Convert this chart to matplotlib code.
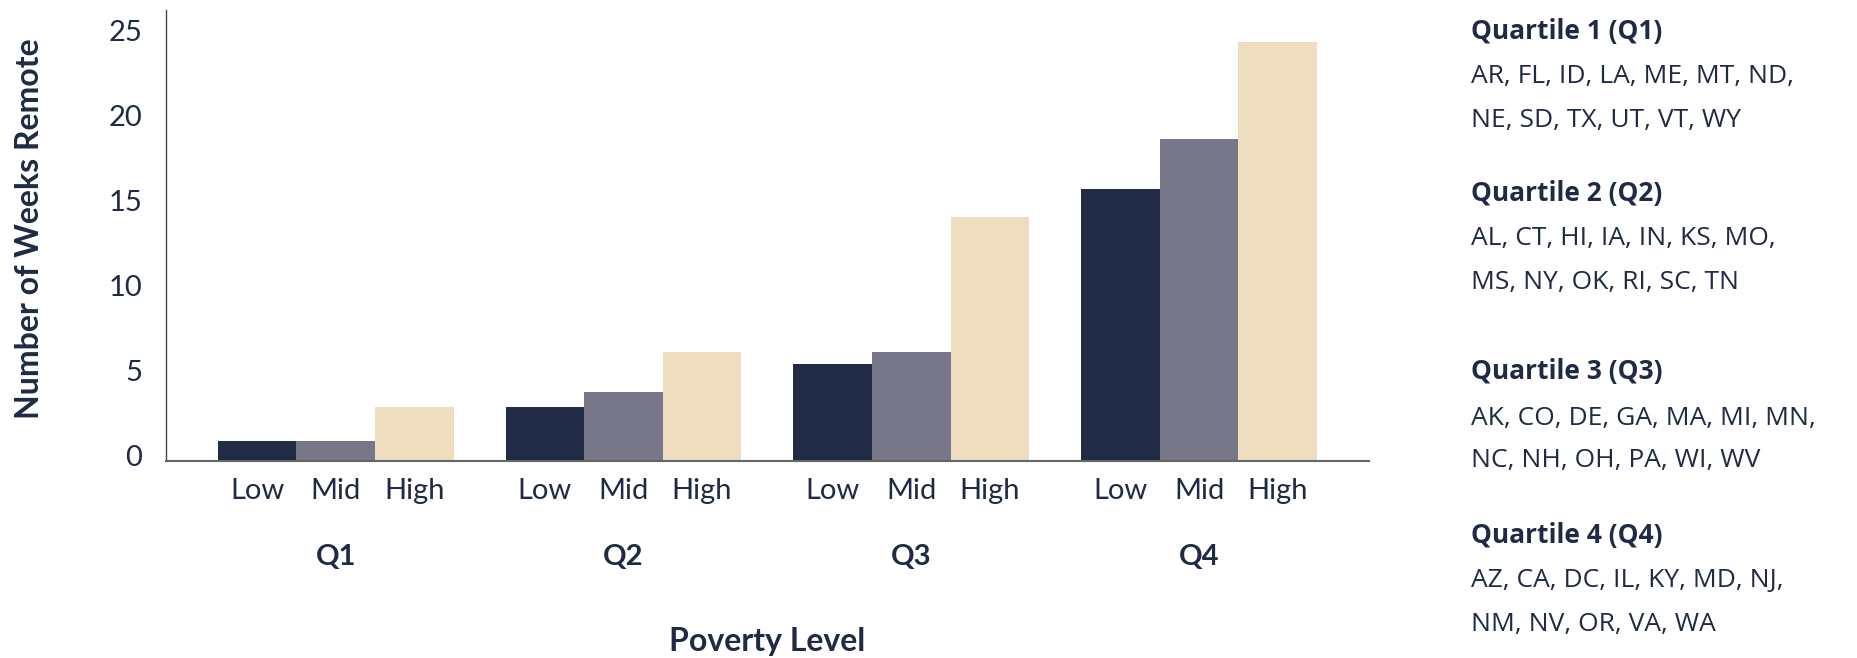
import numpy as np
import matplotlib
matplotlib.use("Agg")
import matplotlib.pyplot as plt
import matplotlib.transforms as mtransforms

# data
quartiles = ["Q1", "Q2", "Q3", "Q4"]
levels = ["Low", "Mid", "High"]
low_vals = [1.15, 3.2, 5.7, 16.0]
mid_vals = [1.15, 4.05, 6.4, 18.9]
high_vals = [3.2, 6.4, 14.35, 24.6]
yticks = [0, 5, 10, 15, 20, 25]

quartile_titles = ["Quartile 1 (Q1)", "Quartile 2 (Q2)", "Quartile 3 (Q3)", "Quartile 4 (Q4)"]
quartile_states = [
    ["AR, FL, ID, LA, ME, MT, ND,", "NE, SD, TX, UT, VT, WY"],
    ["AL, CT, HI, IA, IN, KS, MO,", "MS, NY, OK, RI, SC, TN"],
    ["AK, CO, DE, GA, MA, MI, MN,", "NC, NH, OH, PA, WI, WV"],
    ["AZ, CA, DC, IL, KY, MD, NJ,", "NM, NV, OR, VA, WA"],
]

colors = ["#212b45", "#787789", "#eedebf"]
txt = "#1f2a44"

plt.rcParams['font.family'] = ['Lato', 'DejaVu Sans']

fig = plt.figure(figsize=(18.58, 6.58), dpi=100)
ax = fig.add_axes([0.0893, 0.2994, 0.7368 - 0.0893, 0.985 - 0.2994])

x = np.arange(len(quartiles))
w = 0.273
series = [low_vals, mid_vals, high_vals]
for i, vals in enumerate(series):
    ax.bar(x + (i - 1) * w, vals, width=w, color=colors[i], linewidth=0)

ax.set_xlim(-0.59, 3.59)
ax.set_ylim(0, 26.5)

# level labels under each bar
pos = np.concatenate([x + (i - 1) * w for i in range(3)])
labs = [lv for lv in levels for _ in quartiles]
ax.set_xticks(pos)
ax.set_xticklabels(labs, fontsize=21, color=txt)
ax.tick_params(axis='x', length=0, pad=12)
ax.set_yticks(yticks)
ax.set_yticklabels([str(t) for t in yticks], fontsize=21, color=txt)
ax.tick_params(axis='y', length=0, pad=17)
up = mtransforms.ScaledTranslation(0, 5 / 100, fig.dpi_scale_trans)
for lab in ax.get_yticklabels():
    lab.set_transform(lab.get_transform() + up)

trans = mtransforms.blended_transform_factory(ax.transData, ax.transAxes)
for xi, q in zip(x, quartiles):
    ax.text(xi, -0.213, q, transform=trans, ha='center', va='center',
            fontsize=21, fontweight='bold', color=txt)

ax.text(0.5, -0.401, "Poverty Level", transform=ax.transAxes, ha='center', va='center',
        fontsize=23, fontweight='bold', color=txt)
ax.text(-0.113, 0.515, "Number of Weeks Remote", transform=ax.transAxes, ha='center',
        va='center', rotation=90, fontsize=23, fontweight='bold', color=txt)

for s in ['top', 'right']:
    ax.spines[s].set_visible(False)
ax.spines['left'].set_color('#444444')
ax.spines['bottom'].set_color('#666666')
ax.spines['left'].set_linewidth(1.0)
ax.spines['bottom'].set_linewidth(1.5)

# quartile membership on the right
head_y = [31, 193, 372, 535]
line_off = [46, 89]
for title, states, hy in zip(quartile_titles, quartile_states, head_y):
    fig.text(0.7917, 1 - hy / 658, title, ha='left', va='center', family='Open Sans',
             fontsize=19, fontweight='bold', color=txt)
    for st, off in zip(states, line_off):
        fig.text(0.7917, 1 - (hy + off) / 658, st, ha='left', va='center',
                 family='Open Sans', fontsize=19, color=txt)

fig.savefig("out.png", dpi=100)
